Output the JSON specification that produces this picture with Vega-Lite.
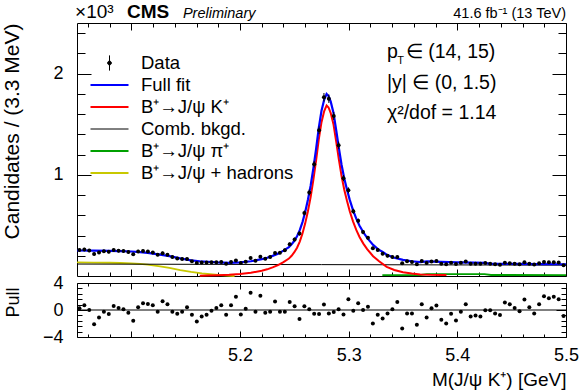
{
  "$schema": "https://vega.github.io/schema/vega-lite/v6.json",
  "padding": {"left": 0, "top": 2, "right": 0, "bottom": 0},
  "spacing": 7,
  "bounds": "flush",
  "config": {
    "font": "Liberation Sans",
    "view": {"stroke": "black", "strokeWidth": 1},
    "axis": {"domain": false, "grid": false, "tickColor": "black", "labelColor": "black", "titleColor": "black", "labelFont": "Liberation Sans", "titleFont": "Liberation Sans", "titleFontWeight": "normal"}
  },
  "datasets": {
    "curves": [
      {"m": 5.05, "v": 134, "comp": "B⁺→J/ψ + hadrons"},
      {"m": 5.065, "v": 133, "comp": "B⁺→J/ψ + hadrons"},
      {"m": 5.08, "v": 131, "comp": "B⁺→J/ψ + hadrons"},
      {"m": 5.09, "v": 128.5, "comp": "B⁺→J/ψ + hadrons"},
      {"m": 5.1, "v": 125, "comp": "B⁺→J/ψ + hadrons"},
      {"m": 5.108, "v": 119, "comp": "B⁺→J/ψ + hadrons"},
      {"m": 5.115, "v": 112, "comp": "B⁺→J/ψ + hadrons"},
      {"m": 5.125, "v": 98, "comp": "B⁺→J/ψ + hadrons"},
      {"m": 5.135, "v": 80, "comp": "B⁺→J/ψ + hadrons"},
      {"m": 5.145, "v": 58, "comp": "B⁺→J/ψ + hadrons"},
      {"m": 5.155, "v": 40, "comp": "B⁺→J/ψ + hadrons"},
      {"m": 5.165, "v": 26, "comp": "B⁺→J/ψ + hadrons"},
      {"m": 5.175, "v": 15, "comp": "B⁺→J/ψ + hadrons"},
      {"m": 5.185, "v": 6, "comp": "B⁺→J/ψ + hadrons"},
      {"m": 5.195, "v": 0, "comp": "B⁺→J/ψ + hadrons"},
      {"m": 5.331, "v": 8, "comp": "B⁺→J/ψ π⁺"},
      {"m": 5.366, "v": 10, "comp": "B⁺→J/ψ π⁺"},
      {"m": 5.372, "v": 19, "comp": "B⁺→J/ψ π⁺"},
      {"m": 5.425, "v": 19, "comp": "B⁺→J/ψ π⁺"},
      {"m": 5.431, "v": 10, "comp": "B⁺→J/ψ π⁺"},
      {"m": 5.5, "v": 9, "comp": "B⁺→J/ψ π⁺"},
      {"m": 5.05, "v": 118, "comp": "Comb. bkgd."},
      {"m": 5.275, "v": 112.5, "comp": "Comb. bkgd."},
      {"m": 5.5, "v": 107, "comp": "Comb. bkgd."},
      {"m": 5.163, "v": 2, "comp": "B⁺→J/ψ K⁺"},
      {"m": 5.17, "v": 4, "comp": "B⁺→J/ψ K⁺"},
      {"m": 5.18, "v": 7, "comp": "B⁺→J/ψ K⁺"},
      {"m": 5.19, "v": 12, "comp": "B⁺→J/ψ K⁺"},
      {"m": 5.2, "v": 20, "comp": "B⁺→J/ψ K⁺"},
      {"m": 5.21, "v": 32, "comp": "B⁺→J/ψ K⁺"},
      {"m": 5.22, "v": 52, "comp": "B⁺→J/ψ K⁺"},
      {"m": 5.225, "v": 66, "comp": "B⁺→J/ψ K⁺"},
      {"m": 5.23, "v": 85, "comp": "B⁺→J/ψ K⁺"},
      {"m": 5.235, "v": 108, "comp": "B⁺→J/ψ K⁺"},
      {"m": 5.24, "v": 138, "comp": "B⁺→J/ψ K⁺"},
      {"m": 5.245, "v": 172, "comp": "B⁺→J/ψ K⁺"},
      {"m": 5.2475, "v": 200, "comp": "B⁺→J/ψ K⁺"},
      {"m": 5.25, "v": 235, "comp": "B⁺→J/ψ K⁺"},
      {"m": 5.2525, "v": 280, "comp": "B⁺→J/ψ K⁺"},
      {"m": 5.255, "v": 340, "comp": "B⁺→J/ψ K⁺"},
      {"m": 5.2575, "v": 420, "comp": "B⁺→J/ψ K⁺"},
      {"m": 5.26, "v": 520, "comp": "B⁺→J/ψ K⁺"},
      {"m": 5.2625, "v": 640, "comp": "B⁺→J/ψ K⁺"},
      {"m": 5.265, "v": 780, "comp": "B⁺→J/ψ K⁺"},
      {"m": 5.2675, "v": 950, "comp": "B⁺→J/ψ K⁺"},
      {"m": 5.27, "v": 1140, "comp": "B⁺→J/ψ K⁺"},
      {"m": 5.2725, "v": 1350, "comp": "B⁺→J/ψ K⁺"},
      {"m": 5.275, "v": 1520, "comp": "B⁺→J/ψ K⁺"},
      {"m": 5.2775, "v": 1630, "comp": "B⁺→J/ψ K⁺"},
      {"m": 5.2797, "v": 1685, "comp": "B⁺→J/ψ K⁺"},
      {"m": 5.2815, "v": 1665, "comp": "B⁺→J/ψ K⁺"},
      {"m": 5.2835, "v": 1610, "comp": "B⁺→J/ψ K⁺"},
      {"m": 5.286, "v": 1500, "comp": "B⁺→J/ψ K⁺"},
      {"m": 5.2885, "v": 1330, "comp": "B⁺→J/ψ K⁺"},
      {"m": 5.291, "v": 1150, "comp": "B⁺→J/ψ K⁺"},
      {"m": 5.2935, "v": 985, "comp": "B⁺→J/ψ K⁺"},
      {"m": 5.296, "v": 850, "comp": "B⁺→J/ψ K⁺"},
      {"m": 5.2985, "v": 740, "comp": "B⁺→J/ψ K⁺"},
      {"m": 5.301, "v": 640, "comp": "B⁺→J/ψ K⁺"},
      {"m": 5.304, "v": 540, "comp": "B⁺→J/ψ K⁺"},
      {"m": 5.307, "v": 455, "comp": "B⁺→J/ψ K⁺"},
      {"m": 5.31, "v": 385, "comp": "B⁺→J/ψ K⁺"},
      {"m": 5.3135, "v": 320, "comp": "B⁺→J/ψ K⁺"},
      {"m": 5.317, "v": 265, "comp": "B⁺→J/ψ K⁺"},
      {"m": 5.3225, "v": 195, "comp": "B⁺→J/ψ K⁺"},
      {"m": 5.328, "v": 145, "comp": "B⁺→J/ψ K⁺"},
      {"m": 5.335, "v": 90, "comp": "B⁺→J/ψ K⁺"},
      {"m": 5.342, "v": 60, "comp": "B⁺→J/ψ K⁺"},
      {"m": 5.35, "v": 38, "comp": "B⁺→J/ψ K⁺"},
      {"m": 5.358, "v": 25, "comp": "B⁺→J/ψ K⁺"},
      {"m": 5.366, "v": 16, "comp": "B⁺→J/ψ K⁺"},
      {"m": 5.375, "v": 12, "comp": "B⁺→J/ψ K⁺"},
      {"m": 5.385, "v": 10, "comp": "B⁺→J/ψ K⁺"},
      {"m": 5.39, "v": 9, "comp": "B⁺→J/ψ K⁺"},
      {"m": 5.05, "v": 252, "comp": "Full fit"},
      {"m": 5.065, "v": 251, "comp": "Full fit"},
      {"m": 5.08, "v": 248, "comp": "Full fit"},
      {"m": 5.09, "v": 246, "comp": "Full fit"},
      {"m": 5.1, "v": 242, "comp": "Full fit"},
      {"m": 5.108, "v": 236, "comp": "Full fit"},
      {"m": 5.115, "v": 228, "comp": "Full fit"},
      {"m": 5.125, "v": 214, "comp": "Full fit"},
      {"m": 5.135, "v": 196, "comp": "Full fit"},
      {"m": 5.145, "v": 174, "comp": "Full fit"},
      {"m": 5.155, "v": 155, "comp": "Full fit"},
      {"m": 5.163, "v": 146, "comp": "Full fit"},
      {"m": 5.17, "v": 141, "comp": "Full fit"},
      {"m": 5.18, "v": 134, "comp": "Full fit"},
      {"m": 5.19, "v": 130, "comp": "Full fit"},
      {"m": 5.2, "v": 134, "comp": "Full fit"},
      {"m": 5.21, "v": 146, "comp": "Full fit"},
      {"m": 5.22, "v": 166, "comp": "Full fit"},
      {"m": 5.225, "v": 180, "comp": "Full fit"},
      {"m": 5.23, "v": 199, "comp": "Full fit"},
      {"m": 5.235, "v": 221, "comp": "Full fit"},
      {"m": 5.24, "v": 251, "comp": "Full fit"},
      {"m": 5.245, "v": 285, "comp": "Full fit"},
      {"m": 5.2475, "v": 313, "comp": "Full fit"},
      {"m": 5.25, "v": 348, "comp": "Full fit"},
      {"m": 5.2525, "v": 393, "comp": "Full fit"},
      {"m": 5.255, "v": 453, "comp": "Full fit"},
      {"m": 5.2575, "v": 533, "comp": "Full fit"},
      {"m": 5.26, "v": 633, "comp": "Full fit"},
      {"m": 5.2625, "v": 753, "comp": "Full fit"},
      {"m": 5.265, "v": 893, "comp": "Full fit"},
      {"m": 5.2675, "v": 1063, "comp": "Full fit"},
      {"m": 5.27, "v": 1253, "comp": "Full fit"},
      {"m": 5.2725, "v": 1463, "comp": "Full fit"},
      {"m": 5.275, "v": 1633, "comp": "Full fit"},
      {"m": 5.2775, "v": 1743, "comp": "Full fit"},
      {"m": 5.2797, "v": 1798, "comp": "Full fit"},
      {"m": 5.2815, "v": 1778, "comp": "Full fit"},
      {"m": 5.2835, "v": 1723, "comp": "Full fit"},
      {"m": 5.286, "v": 1613, "comp": "Full fit"},
      {"m": 5.2885, "v": 1443, "comp": "Full fit"},
      {"m": 5.291, "v": 1263, "comp": "Full fit"},
      {"m": 5.2935, "v": 1097, "comp": "Full fit"},
      {"m": 5.296, "v": 962, "comp": "Full fit"},
      {"m": 5.2985, "v": 852, "comp": "Full fit"},
      {"m": 5.301, "v": 752, "comp": "Full fit"},
      {"m": 5.304, "v": 652, "comp": "Full fit"},
      {"m": 5.307, "v": 567, "comp": "Full fit"},
      {"m": 5.31, "v": 497, "comp": "Full fit"},
      {"m": 5.3135, "v": 432, "comp": "Full fit"},
      {"m": 5.317, "v": 377, "comp": "Full fit"},
      {"m": 5.3225, "v": 307, "comp": "Full fit"},
      {"m": 5.328, "v": 257, "comp": "Full fit"},
      {"m": 5.331, "v": 241, "comp": "Full fit"},
      {"m": 5.335, "v": 210, "comp": "Full fit"},
      {"m": 5.342, "v": 180, "comp": "Full fit"},
      {"m": 5.35, "v": 159, "comp": "Full fit"},
      {"m": 5.358, "v": 146, "comp": "Full fit"},
      {"m": 5.366, "v": 137, "comp": "Full fit"},
      {"m": 5.372, "v": 144, "comp": "Full fit"},
      {"m": 5.385, "v": 140, "comp": "Full fit"},
      {"m": 5.4, "v": 135, "comp": "Full fit"},
      {"m": 5.415, "v": 132, "comp": "Full fit"},
      {"m": 5.425, "v": 130, "comp": "Full fit"},
      {"m": 5.431, "v": 120, "comp": "Full fit"},
      {"m": 5.45, "v": 119, "comp": "Full fit"},
      {"m": 5.475, "v": 118, "comp": "Full fit"},
      {"m": 5.5, "v": 116, "comp": "Full fit"}
    ],
    "bins": [
      {"m": 5.05225, "n": 256, "err": 16, "pull": 0.25},
      {"m": 5.05675, "n": 262, "err": 16.2, "pull": 0.7},
      {"m": 5.06125, "n": 251, "err": 15.8, "pull": 0},
      {"m": 5.06575, "n": 217, "err": 14.7, "pull": -2.1},
      {"m": 5.07025, "n": 232, "err": 15.2, "pull": -1.1},
      {"m": 5.07475, "n": 245, "err": 15.7, "pull": -0.25},
      {"m": 5.07925, "n": 239, "err": 15.5, "pull": -0.6},
      {"m": 5.08375, "n": 256, "err": 16, "pull": 0.6},
      {"m": 5.08825, "n": 250, "err": 15.8, "pull": 0.3},
      {"m": 5.09275, "n": 246, "err": 15.7, "pull": 0.1},
      {"m": 5.09725, "n": 237, "err": 15.4, "pull": -0.4},
      {"m": 5.10175, "n": 216, "err": 14.7, "pull": -1.6},
      {"m": 5.10625, "n": 243, "err": 15.6, "pull": 0.4},
      {"m": 5.11075, "n": 248, "err": 15.7, "pull": 1.0},
      {"m": 5.11525, "n": 242, "err": 15.6, "pull": 0.9},
      {"m": 5.11975, "n": 231, "err": 15.2, "pull": 0.7},
      {"m": 5.12425, "n": 211, "err": 14.5, "pull": -0.25},
      {"m": 5.12875, "n": 226, "err": 15, "pull": 1.3},
      {"m": 5.13325, "n": 211, "err": 14.5, "pull": 0.85},
      {"m": 5.13775, "n": 187, "err": 13.7, "pull": -0.25},
      {"m": 5.14225, "n": 173, "err": 13.2, "pull": -0.55},
      {"m": 5.14675, "n": 168, "err": 13, "pull": -0.25},
      {"m": 5.15125, "n": 168, "err": 13, "pull": 0.4},
      {"m": 5.15575, "n": 146, "err": 12.1, "pull": -0.7},
      {"m": 5.16025, "n": 129, "err": 11.4, "pull": -1.7},
      {"m": 5.16475, "n": 133, "err": 11.5, "pull": -0.95},
      {"m": 5.16925, "n": 133, "err": 11.5, "pull": -0.7},
      {"m": 5.17375, "n": 135, "err": 11.6, "pull": -0.1},
      {"m": 5.17825, "n": 136, "err": 11.7, "pull": 0.3},
      {"m": 5.18275, "n": 139, "err": 11.8, "pull": 0.7},
      {"m": 5.18725, "n": 121, "err": 11, "pull": -0.7},
      {"m": 5.19175, "n": 138, "err": 11.7, "pull": 0.7},
      {"m": 5.19625, "n": 154, "err": 12.4, "pull": 1.95},
      {"m": 5.20075, "n": 128, "err": 11.3, "pull": -0.65},
      {"m": 5.20525, "n": 142, "err": 11.9, "pull": 0.2},
      {"m": 5.20975, "n": 177, "err": 13.3, "pull": 2.55},
      {"m": 5.21425, "n": 151, "err": 12.3, "pull": -0.25},
      {"m": 5.21875, "n": 191, "err": 13.8, "pull": 2.1},
      {"m": 5.22325, "n": 170, "err": 13, "pull": -0.4},
      {"m": 5.22775, "n": 187, "err": 13.7, "pull": -0.25},
      {"m": 5.23225, "n": 227, "err": 15.1, "pull": 1.25},
      {"m": 5.23675, "n": 230, "err": 15.2, "pull": -0.25},
      {"m": 5.24125, "n": 255, "err": 16, "pull": -0.25},
      {"m": 5.24575, "n": 314, "err": 17.7, "pull": 1.2},
      {"m": 5.25025, "n": 361, "err": 19, "pull": 0.55},
      {"m": 5.25475, "n": 420, "err": 20.5, "pull": -1.35},
      {"m": 5.25925, "n": 622, "err": 24.9, "pull": 0.55},
      {"m": 5.26375, "n": 826, "err": 28.7, "pull": 0.1},
      {"m": 5.26825, "n": 1105, "err": 33.2, "pull": -0.55},
      {"m": 5.27275, "n": 1440, "err": 37.9, "pull": -0.6},
      {"m": 5.27725, "n": 1766, "err": 42, "pull": 0.8},
      {"m": 5.28175, "n": 1752, "err": 41.9, "pull": -0.5},
      {"m": 5.28625, "n": 1581, "err": 39.8, "pull": -0.3},
      {"m": 5.29075, "n": 1292, "err": 35.9, "pull": 0.1},
      {"m": 5.29525, "n": 967, "err": 31.1, "pull": -0.65},
      {"m": 5.29975, "n": 847, "err": 29.1, "pull": 1.6},
      {"m": 5.30425, "n": 639, "err": 25.3, "pull": -0.1},
      {"m": 5.30875, "n": 545, "err": 23.3, "pull": 1.0},
      {"m": 5.31325, "n": 434, "err": 20.8, "pull": 0},
      {"m": 5.31775, "n": 377, "err": 19.4, "pull": 0.5},
      {"m": 5.32225, "n": 273, "err": 16.5, "pull": -2.0},
      {"m": 5.32675, "n": 257, "err": 16, "pull": -0.7},
      {"m": 5.33125, "n": 220, "err": 14.8, "pull": -1.25},
      {"m": 5.33575, "n": 199, "err": 14.1, "pull": -0.5},
      {"m": 5.34025, "n": 187, "err": 13.7, "pull": 0.1},
      {"m": 5.34475, "n": 188, "err": 13.7, "pull": 1.2},
      {"m": 5.34925, "n": 125, "err": 11.2, "pull": -2.75},
      {"m": 5.35375, "n": 146, "err": 12.1, "pull": -0.5},
      {"m": 5.35825, "n": 139, "err": 11.8, "pull": -0.5},
      {"m": 5.36275, "n": 115, "err": 10.7, "pull": -2.2},
      {"m": 5.36725, "n": 147, "err": 12.1, "pull": 0.85},
      {"m": 5.37175, "n": 129, "err": 11.4, "pull": -1.1},
      {"m": 5.37625, "n": 144, "err": 12, "pull": 0.25},
      {"m": 5.38075, "n": 148, "err": 12.2, "pull": 0.65},
      {"m": 5.38525, "n": 122, "err": 11, "pull": -1.45},
      {"m": 5.38975, "n": 115, "err": 10.7, "pull": -2.0},
      {"m": 5.39425, "n": 131, "err": 11.4, "pull": -0.55},
      {"m": 5.39875, "n": 118, "err": 10.9, "pull": -1.55},
      {"m": 5.40325, "n": 132, "err": 11.5, "pull": -0.25},
      {"m": 5.40775, "n": 144, "err": 12, "pull": 0.85},
      {"m": 5.41225, "n": 122, "err": 11, "pull": -0.95},
      {"m": 5.41675, "n": 122, "err": 11, "pull": -0.8},
      {"m": 5.42125, "n": 120, "err": 11, "pull": -0.95},
      {"m": 5.42575, "n": 129, "err": 11.4, "pull": -0.05},
      {"m": 5.43025, "n": 122, "err": 11, "pull": -0.05},
      {"m": 5.43475, "n": 115, "err": 10.7, "pull": -0.5},
      {"m": 5.43925, "n": 111, "err": 10.5, "pull": -0.75},
      {"m": 5.44375, "n": 131, "err": 11.4, "pull": 1.1},
      {"m": 5.44825, "n": 127, "err": 11.3, "pull": 0.85},
      {"m": 5.45275, "n": 121, "err": 11, "pull": 0.3},
      {"m": 5.45725, "n": 116, "err": 10.8, "pull": -0.2},
      {"m": 5.46175, "n": 135, "err": 11.6, "pull": 1.55},
      {"m": 5.46625, "n": 122, "err": 11, "pull": 0.4},
      {"m": 5.47075, "n": 113, "err": 10.6, "pull": -0.5},
      {"m": 5.47525, "n": 126, "err": 11.2, "pull": 0.85},
      {"m": 5.47975, "n": 138, "err": 11.7, "pull": 2.05},
      {"m": 5.48425, "n": 135, "err": 11.6, "pull": 1.75},
      {"m": 5.48875, "n": 137, "err": 11.7, "pull": 1.95},
      {"m": 5.49325, "n": 133, "err": 11.5, "pull": 1.6},
      {"m": 5.49775, "n": 106, "err": 10.3, "pull": -0.9}
    ]
  },
  "vconcat": [
    {
      "width": 489,
      "height": 253,
      "resolve": {"axis": {"x": "independent", "y": "independent"}},
      "layer": [
        {
          "data": {"name": "curves"},
          "mark": {"type": "line", "interpolate": "linear"},
          "encoding": {
            "x": {"field": "m", "type": "quantitative", "scale": {"domain": [5.05, 5.5], "nice": false, "zero": false},
              "axis": {"orient": "bottom", "values": [5.06,5.08,5.1,5.12,5.14,5.16,5.18,5.2,5.22,5.24,5.26,5.28,5.3,5.32,5.34,5.36,5.38,5.4,5.42,5.44,5.46,5.48,5.5], "labels": false, "title": null, "minExtent": 0, "maxExtent": 0,
                "tickSize": {"condition": {"test": "abs(datum.value*10 - round(datum.value*10)) < 0.001", "value": -7}, "value": -4}}},
            "y": {"field": "v", "type": "quantitative", "scale": {"domain": [0, 2500], "nice": false},
              "axis": {"orient": "left", "values": [200,400,600,800,1000,1200,1400,1600,1800,2000,2200,2400],
                "labelExpr": "datum.value % 1000 === 0 ? format(datum.value/1000, 'd') : ''",
                "labelFontSize": 18, "labelPadding": 28,
                "tickSize": {"condition": {"test": "datum.value % 1000 === 0", "value": -14}, "value": -8},
                "title": "Candidates / (3.3 MeV)", "titleFontSize": 21, "titleAngle": 270, "titleAlign": "right", "titleBaseline": "alphabetic", "titleX": -59, "titleY": 0}},
            "color": {"field": "comp", "type": "nominal",
              "scale": {"domain": ["Data", "Full fit", "B⁺→J/ψ K⁺", "Comb. bkgd.", "B⁺→J/ψ π⁺", "B⁺→J/ψ + hadrons"], "range": ["#000000", "#0000ff", "#ff0000", "#000000", "#00a000", "#c8c800"]},
              "legend": {"orient": "none", "legendX": 12, "legendY": 29, "title": null, "labelFont": "Liberation Sans", "labelFontSize": 18.5, "labelColor": "black", "labelLimit": 400,
                "symbolType": "stroke", "symbolSize": 1444, "symbolStrokeWidth": 2, "clipHeight": 22, "rowPadding": 0, "labelOffset": 11,
                "encode": {"symbols": {"update": {
                  "shape": {"signal": "datum.value === 'Data' ? 'M0,-0.4L0,0.4M-0.1,0A0.1,0.1,0,1,0,0.1,0A0.1,0.1,0,1,0,-0.1,0Z' : 'stroke'"},
                  "fill": {"signal": "datum.value === 'Data' ? 'black' : 'transparent'"},
                  "strokeWidth": {"signal": "datum.value === 'Comb. bkgd.' || datum.value === 'Data' ? 1 : 2"}
                }}}}},
            "strokeWidth": {"field": "comp", "type": "ordinal", "scale": {"type": "ordinal", "domain": ["Data", "Full fit", "B⁺→J/ψ K⁺", "Comb. bkgd.", "B⁺→J/ψ π⁺", "B⁺→J/ψ + hadrons"], "range": [1, 2.2, 2, 1, 1.8, 1.8]}, "legend": null}
          }
        },
        {
          "data": {"name": "bins"},
          "mark": {"type": "errorbar", "ticks": false, "color": "black", "thickness": 1},
          "encoding": {
            "x": {"field": "m", "type": "quantitative", "axis": null},
            "y": {"field": "n", "type": "quantitative", "axis": null},
            "yError": {"field": "err"}
          }
        },
        {
          "data": {"name": "bins"},
          "mark": {"type": "circle", "color": "black", "size": 16, "opacity": 1},
          "encoding": {
            "x": {"field": "m", "type": "quantitative",
              "axis": {"orient": "top", "values": [5.06,5.08,5.1,5.12,5.14,5.16,5.18,5.2,5.22,5.24,5.26,5.28,5.3,5.32,5.34,5.36,5.38,5.4,5.42,5.44,5.46,5.48,5.5], "labels": false, "title": null, "minExtent": 0, "maxExtent": 0,
                "tickSize": {"condition": {"test": "abs(datum.value*10 - round(datum.value*10)) < 0.001", "value": -7}, "value": -4}}},
            "y": {"field": "n", "type": "quantitative",
              "axis": {"orient": "right", "values": [200,400,600,800,1000,1200,1400,1600,1800,2000,2200,2400], "labels": false, "title": null, "minExtent": 0, "maxExtent": 0,
                "tickSize": {"condition": {"test": "datum.value % 1000 === 0", "value": -14}, "value": -8}}}
          }
        },
        {
          "data": {"values": [{}]},
          "mark": {"type": "text", "text": "×10³", "fontSize": 19, "align": "left", "baseline": "alphabetic", "color": "black"},
          "encoding": {"x": {"datum": 5.0482, "type": "quantitative", "axis": null}, "y": {"datum": 2550, "type": "quantitative", "axis": null}}
        },
        {
          "data": {"values": [{}]},
          "mark": {"type": "text", "text": "CMS", "fontSize": 19, "fontWeight": "bold", "align": "left", "baseline": "alphabetic", "color": "black"},
          "encoding": {"x": {"datum": 5.096, "type": "quantitative", "axis": null}, "y": {"datum": 2550, "type": "quantitative", "axis": null}}
        },
        {
          "data": {"values": [{}]},
          "mark": {"type": "text", "text": "Preliminary", "fontSize": 14.5, "fontStyle": "italic", "align": "left", "baseline": "alphabetic", "color": "black"},
          "encoding": {"x": {"datum": 5.1475, "type": "quantitative", "axis": null}, "y": {"datum": 2550, "type": "quantitative", "axis": null}}
        },
        {
          "data": {"values": [{}]},
          "mark": {"type": "text", "text": "41.6 fb⁻¹ (13 TeV)", "fontSize": 14.5, "align": "right", "baseline": "alphabetic", "color": "black"},
          "encoding": {"x": {"datum": 5.5, "type": "quantitative", "axis": null}, "y": {"datum": 2550, "type": "quantitative", "axis": null}}
        },
        {
          "data": {"values": [{}]},
          "mark": {"type": "text", "text": "p", "fontSize": 19.5, "align": "left", "baseline": "alphabetic", "color": "black"},
          "encoding": {"x": {"datum": 5.3352, "type": "quantitative", "axis": null}, "y": {"datum": 2152, "type": "quantitative", "axis": null}}
        },
        {
          "data": {"values": [{}]},
          "mark": {"type": "text", "text": "T", "fontSize": 11, "align": "left", "baseline": "alphabetic", "color": "black"},
          "encoding": {"x": {"datum": 5.3447, "type": "quantitative", "axis": null}, "y": {"datum": 2090, "type": "quantitative", "axis": null}}
        },
        {
          "data": {"values": [{}]},
          "mark": {"type": "text", "text": "∈ (14, 15)", "fontSize": 19.5, "align": "left", "baseline": "alphabetic", "color": "black"},
          "encoding": {"x": {"datum": 5.3525, "type": "quantitative", "axis": null}, "y": {"datum": 2152, "type": "quantitative", "axis": null}}
        },
        {
          "data": {"values": [{}]},
          "mark": {"type": "text", "text": "|y| ∈ (0, 1.5)", "fontSize": 19.5, "align": "left", "baseline": "alphabetic", "color": "black"},
          "encoding": {"x": {"datum": 5.3352, "type": "quantitative", "axis": null}, "y": {"datum": 1846, "type": "quantitative", "axis": null}}
        },
        {
          "data": {"values": [{}]},
          "mark": {"type": "text", "text": "χ²/dof = 1.14", "fontSize": 19.5, "align": "left", "baseline": "alphabetic", "color": "black"},
          "encoding": {"x": {"datum": 5.3352, "type": "quantitative", "axis": null}, "y": {"datum": 1550, "type": "quantitative", "axis": null}}
        }
      ]
    },
    {
      "width": 489,
      "height": 54,
      "resolve": {"axis": {"x": "independent", "y": "independent"}},
      "layer": [
        {
          "data": {"values": [{}]},
          "mark": {"type": "rule", "color": "black", "strokeWidth": 1},
          "encoding": {
            "x": {"datum": 5.05, "type": "quantitative", "scale": {"domain": [5.05, 5.5], "nice": false, "zero": false},
              "axis": {"orient": "top", "values": [5.06,5.08,5.1,5.12,5.14,5.16,5.18,5.2,5.22,5.24,5.26,5.28,5.3,5.32,5.34,5.36,5.38,5.4,5.42,5.44,5.46,5.48,5.5], "labels": false, "title": null, "minExtent": 0, "maxExtent": 0,
                "tickSize": {"condition": {"test": "abs(datum.value*10 - round(datum.value*10)) < 0.001", "value": -6}, "value": -3}}},
            "x2": {"datum": 5.5},
            "y": {"datum": 0, "type": "quantitative", "scale": {"domain": [-4, 4], "nice": false},
              "axis": {"orient": "right", "values": [-4,-3.2,-2.4,-1.6,-0.8,0,0.8,1.6,2.4,3.2,4], "labels": false, "title": null, "minExtent": 0, "maxExtent": 0,
                "tickSize": {"condition": {"test": "datum.value === 4 || datum.value === 0 || datum.value === -4", "value": -10}, "value": -5}}}
          }
        },
        {
          "data": {"name": "bins"},
          "mark": {"type": "circle", "color": "black", "size": 16, "opacity": 1},
          "encoding": {
            "x": {"field": "m", "type": "quantitative",
              "axis": {"orient": "bottom", "values": [5.06,5.08,5.1,5.12,5.14,5.16,5.18,5.2,5.22,5.24,5.26,5.28,5.3,5.32,5.34,5.36,5.38,5.4,5.42,5.44,5.46,5.48,5.5],
                "labelExpr": "abs(datum.value*10 - round(datum.value*10)) < 0.001 && datum.value > 5.15 ? format(datum.value, '.1f') : ''",
                "labelFontSize": 18, "labelPadding": 15, "labelFlush": false, "labelOverlap": false,
                "tickSize": {"condition": {"test": "abs(datum.value*10 - round(datum.value*10)) < 0.001", "value": -6}, "value": -3},
                "title": "M(J/ψ K⁺) [GeV]", "titleFontSize": 19, "titleAlign": "right", "titleBaseline": "alphabetic", "titleX": 489, "titleY": 48}},
            "y": {"field": "pull", "type": "quantitative",
              "axis": {"orient": "left", "values": [-4,-3.2,-2.4,-1.6,-0.8,0,0.8,1.6,2.4,3.2,4],
                "labelExpr": "datum.value === 4 || datum.value === 0 || datum.value === -4 ? datum.label : ''",
                "labelFontSize": 18, "labelPadding": 24, "labelOverlap": false, "labelFlush": false,
                "tickSize": {"condition": {"test": "datum.value === 4 || datum.value === 0 || datum.value === -4", "value": -10}, "value": -5},
                "title": "Pull", "titleFontSize": 18, "titleAngle": 270, "titleAlign": "right", "titleBaseline": "alphabetic", "titleX": -59, "titleY": 4}}
          }
        }
      ]
    }
  ]
}
